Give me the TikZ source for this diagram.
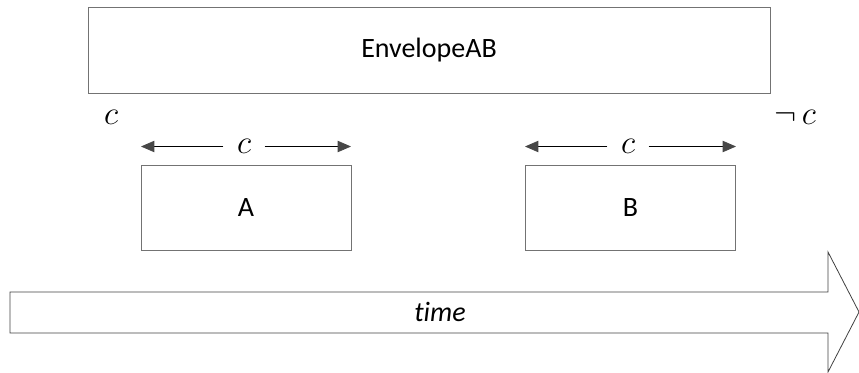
\documentclass[tikz,border=0pt]{standalone}
\usepackage{fontspec}
\setmainfont{Carlito}[Ligatures=NoCommon]
\usepackage{amssymb}
\usetikzlibrary{arrows.meta,positioning}
\tikzset{blockbox/.style={draw=black!55, line width=0.7pt, inner sep=0pt,
  font=\fontsize{21}{25}\selectfont},
spanarrow/.style={-{Triangle[length=10pt,width=8.5pt,color=black!72]}, line width=0.6pt},
clabel/.style={inner xsep=10pt, inner ysep=0pt, font=\fontsize{24}{28}\selectfont}}

\begin{document}
\begin{tikzpicture}[x=0.75pt,y=-0.75pt]
 \useasboundingbox (0,0) rectangle (859,372);

 %Envelope on top
 \node[blockbox, minimum width=511.5pt, minimum height=65pt] (envelope) at (429,50.5) {EnvelopeAB};
 \node[clabel, inner xsep=0pt] (condleft) at (111,117) {$c$};
 \node[clabel, inner xsep=0pt] (condright) at (795,117) {$\neg\,c$};

 %Block A
 \node[blockbox, minimum width=157.5pt, minimum height=63.75pt] (blockA) at (246,207.5) {A};
 \node[clabel] (spanA) at (244,146.5) {$c$};
 \coordinate (spanAleft) at (141,146.5);
 \coordinate (spanAright) at (351,146.5);
 \draw[spanarrow] (spanA) -- (spanAleft);
 \draw[spanarrow] (spanA) -- (spanAright);

 %Block B
 \node[blockbox, minimum width=157.5pt, minimum height=63.75pt] (blockB) at (630.5,207.5) {B};
 \node[clabel] (spanB) at (628,146.5) {$c$};
 \coordinate (spanBleft) at (525,146.5);
 \coordinate (spanBright) at (736,146.5);
 \draw[spanarrow] (spanB) -- (spanBleft);
 \draw[spanarrow] (spanB) -- (spanBright);

 %Time arrow
 \draw[draw=black!75, line width=0.6pt] (10,292) -- (828,292) -- (828,252) -- (859,312)
   -- (828,372) -- (828,333) -- (10,333) -- cycle;
 \node[font=\fontsize{21}{25}\selectfont\itshape] (timelabel) at (440,312) {time};
\end{tikzpicture}
\end{document}
